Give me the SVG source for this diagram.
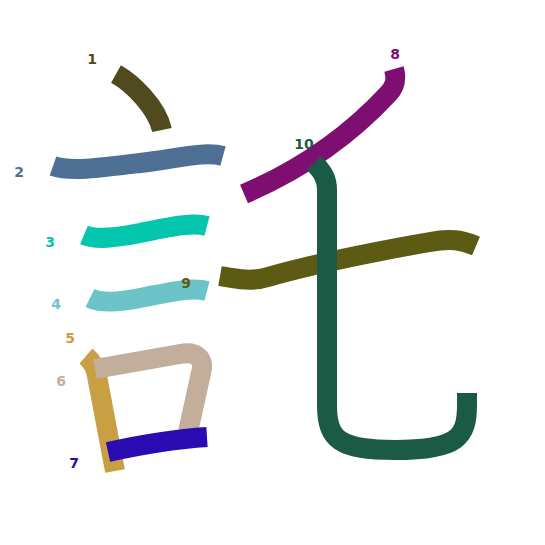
<svg xmlns="http://www.w3.org/2000/svg" width="545" height="545" viewBox="0 0 545 545">
<style>
.s{fill:none;stroke-width:20;stroke-linecap:butt;stroke-linejoin:round}
.n{font-family:"DejaVu Sans",sans-serif;font-size:14px;font-weight:bold;text-anchor:middle}
</style>
<rect width="545" height="545" fill="#ffffff"/>
<g id="strokes">
<g id="s1"><path class="s" stroke="#514a1f" d="M116,74 C132,83 157,107 162,130"/></g>
<g id="s2"><path class="s" stroke="#4d7094" d="M53,166 C70,172 100,168 140,163 C180,158 205,151 223,156"/></g>
<g id="s3"><path class="s" stroke="#04c6ae" d="M84,235 C96,240 115,238 140,233 C170,227 192,222 207,226"/></g>
<g id="s4"><path class="s" stroke="#6cc3c8" d="M90,298 C102,304 122,302 145,297 C170,292 192,287 207,291"/></g>
<g id="s5"><path class="s" stroke="#c8a043" d="M86,356 C93,362 96,368 97,376 L115,471"/></g>
<g id="s6"><path class="s" stroke="#c2ae9b" d="M95,369 L180,354 C196,351 205,358 201,373 L188,432"/></g>
<g id="s7"><path class="s" stroke="#2a0bb1" d="M108,452 C140,445 175,439 207,437"/></g>
<g id="s8"><path class="s" stroke="#7e0e72" d="M394,69 C397,80 395,87 388,94 C350,135 300,170 244,194"/></g>
<g id="s9"><path class="s" stroke="#5d5a13" d="M220,276 C237,279 252,282 268,277 C320,262 400,247 430,242 C450,238 462,240 476,246"/></g>
<g id="s10"><path class="s" stroke="#1b5a45" d="M314,163 C322,171 327,178 327,190 L327,405 C327,440 340,450 395,450 C458,450 467,437 467,405 L467,393"/></g>
</g>
<g id="labels">
<text class="n" x="92" y="64" fill="#514a1f">1</text>
<text class="n" x="19" y="177" fill="#4d7094">2</text>
<text class="n" x="50" y="247" fill="#04c6ae">3</text>
<text class="n" x="56" y="309" fill="#6cc3c8">4</text>
<text class="n" x="70" y="343" fill="#c8a043">5</text>
<text class="n" x="61" y="386" fill="#c2ae9b">6</text>
<text class="n" x="74" y="468" fill="#2a0bb1">7</text>
<text class="n" x="395" y="59" fill="#7e0e72">8</text>
<text class="n" x="186" y="288" fill="#5d5a13">9</text>
<text class="n" x="304" y="149" fill="#1b5a45">10</text>
</g>
</svg>
